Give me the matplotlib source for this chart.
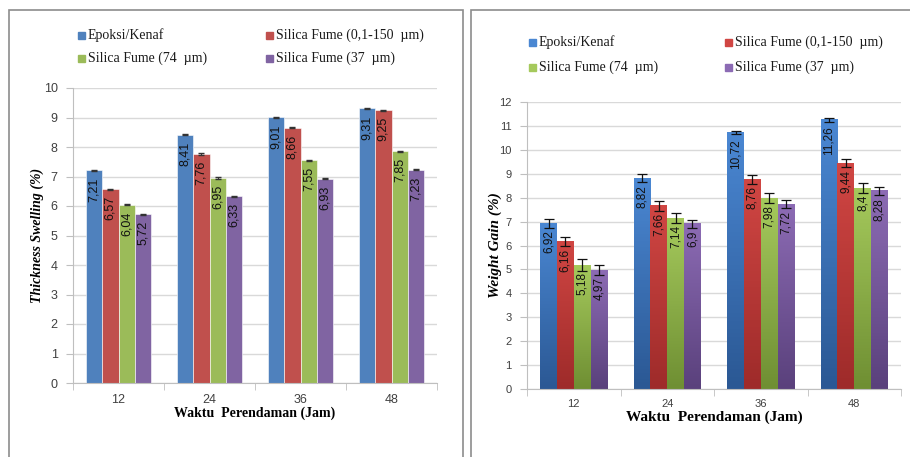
import numpy as np
import matplotlib
matplotlib.use('Agg')
import matplotlib.pyplot as plt
from matplotlib.patches import Rectangle
from matplotlib.colors import LinearSegmentedColormap

W, H = 910, 457

categories = ['12', '24', '36', '48']
series = ['Epoksi/Kenaf', 'Silica Fume (0,1-150  µm)', 'Silica Fume (74  µm)', 'Silica Fume (37  µm)']

swelling = [
    [7.21, 8.41, 9.01, 9.31],
    [6.57, 7.76, 8.66, 9.25],
    [6.04, 6.95, 7.55, 7.85],
    [5.72, 6.33, 6.93, 7.23],
]
swelling_err = [
    [0.02, 0.02, 0.02, 0.02],
    [0.02, 0.02, 0.02, 0.02],
    [0.02, 0.02, 0.02, 0.02],
    [0.02, 0.02, 0.02, 0.02],
]
swelling_labels = [
    ['7,21', '8,41', '9,01', '9,31'],
    ['6,57', '7,76', '8,66', '9,25'],
    ['6,04', '6,95', '7,55', '7,85'],
    ['5,72', '6,33', '6,93', '7,23'],
]

gain = [
    [6.92, 8.82, 10.72, 11.26],
    [6.16, 7.66, 8.76, 9.44],
    [5.18, 7.14, 7.98, 8.40],
    [4.97, 6.90, 7.72, 8.28],
]
gain_err = [
    [0.18, 0.18, 0.07, 0.08],
    [0.20, 0.20, 0.19, 0.17],
    [0.25, 0.22, 0.22, 0.20],
    [0.20, 0.18, 0.17, 0.18],
]
gain_labels = [
    ['6,92', '8,82', '10,72', '11,26'],
    ['6,16', '7,66', '8,76', '9,44'],
    ['5,18', '7,14', '7,98', '8,4'],
    ['4,97', '6,9', '7,72', '8,28'],
]

flat_colors = ['#4F81BD', '#C0504D', '#9BBB59', '#8064A2']
grad_colors = [('#2B5894', '#4A87D2'), ('#9E2B2A', '#D04643'),
               ('#6F8F33', '#A5C95C'), ('#5A417C', '#8C6BB4')]

serif = 'Liberation Serif'
sans = 'Liberation Sans'

fig = plt.figure(figsize=(W / 100, H / 100), dpi=100)


def px_axes(x0, y0, x1, y1):
    return fig.add_axes([x0 / W, 1 - y1 / H, (x1 - x0) / W, (y1 - y0) / H])


# panel borders
fig.patches.append(Rectangle((9 / W, -0.1), (463 - 9) / W, 1.1 - 10 / H, transform=fig.transFigure,
                             fill=False, ec='#8C8C8C', lw=1.2))
fig.patches.append(Rectangle((471 / W, -0.1), 0.5, 1.1 - 10 / H, transform=fig.transFigure,
                             fill=False, ec='#8C8C8C', lw=1.2))


def style_axes(ax, ymax, tick_fs, xpad):
    ax.set_xlim(-0.5, 3.5)
    ax.set_ylim(0, ymax)
    ax.set_yticks(range(0, ymax + 1))
    ax.set_xticks(range(4))
    ax.set_xticklabels(categories)
    ax.set_xticks([-0.5, 0.5, 1.5, 2.5, 3.5], minor=True)
    ax.tick_params(axis='x', which='major', length=0, pad=xpad, labelsize=tick_fs, labelcolor='#404040')
    ax.tick_params(axis='x', which='minor', length=5, color='#BFBFBF', direction='out')
    ax.tick_params(axis='y', length=5, color='#BFBFBF', labelsize=tick_fs, labelcolor='#404040', pad=6)
    for lab in ax.get_xticklabels() + ax.get_yticklabels():
        lab.set_family(sans)
    ax.grid(axis='y', color='#D9D9D9', lw=1)
    ax.set_axisbelow(True)
    for s in ['top', 'right']:
        ax.spines[s].set_visible(False)
    for s in ['left', 'bottom']:
        ax.spines[s].set_color('#BFBFBF')


def legend_at(x_cols, y_rows, colors):
    k = 0
    for r in range(2):
        for c in range(2):
            fig.patches.append(Rectangle(((x_cols[c] - 4) / W, 1 - (y_rows[r] + 4) / H), 7 / W, 7 / H,
                                         transform=fig.transFigure, color=colors[k]))
            fig.text((x_cols[c] + 6) / W, 1 - y_rows[r] / H, series[k], family=serif, fontsize=10,
                     va='center', ha='left', color='#1a1a1a')
            k += 1


x = np.arange(4)
bw = 0.18
offsets = [-1.5 * bw, -0.5 * bw, 0.5 * bw, 1.5 * bw]

# ---- left chart: thickness swelling
ax1 = px_axes(73, 88, 437, 383)
style_axes(ax1, 10, 9, 8)
for i in range(4):
    bars = ax1.bar(x + offsets[i], swelling[i], bw, color=flat_colors[i], ec='white', lw=0.4,
                   yerr=swelling_err[i], capsize=2, error_kw=dict(ecolor='#333333', lw=0.8))
    for b, lab in zip(bars, swelling_labels[i]):
        ax1.annotate(lab, (b.get_x() + b.get_width() / 2, b.get_height()), xytext=(0, -5),
                     textcoords='offset points', rotation=90, ha='center', va='top',
                     fontsize=9, family=sans, color='#111111')
ax1.set_xlabel('Waktu  Perendaman (Jam)', family=serif, fontweight='bold', fontsize=10, labelpad=0)
ax1.set_ylabel('Thickness Swelling (%)', family=serif, fontweight='bold', style='italic',
               fontsize=10, labelpad=0)
legend_at([82, 270], [35, 58], flat_colors)

# ---- right chart: weight gain, gradient bars
ax2 = px_axes(527, 102, 901, 389)
style_axes(ax2, 12, 8, 7)
grad = np.linspace(0, 1, 64).reshape(-1, 1)
for i in range(4):
    cmap = LinearSegmentedColormap.from_list('g%d' % i, list(grad_colors[i]))
    bars = ax2.bar(x + offsets[i], gain[i], bw, color='none', ec='none')
    for b in bars:
        x0, w, h = b.get_x(), b.get_width(), b.get_height()
        ax2.imshow(grad, extent=[x0, x0 + w, 0, h], origin='lower', aspect='auto', cmap=cmap, zorder=2)
    ax2.errorbar(x + offsets[i], gain[i], yerr=gain_err[i], fmt='none', ecolor='#111111',
                 lw=0.9, capsize=3.5, capthick=0.9, zorder=4)
    for b, lab in zip(bars, gain_labels[i]):
        ax2.annotate(lab, (b.get_x() + b.get_width() / 2, b.get_height()), xytext=(0, -5),
                     textcoords='offset points', rotation=90, ha='center', va='top',
                     fontsize=8.5, family=sans, color='#111111', zorder=5)
ax2.set_xlim(-0.5, 3.5)
ax2.set_ylim(0, 12)
ax2.set_xlabel('Waktu  Perendaman (Jam)', family=serif, fontweight='bold', fontsize=11, labelpad=1)
ax2.set_ylabel('Weight Gain (%)', family=serif, fontweight='bold', style='italic',
               fontsize=11, labelpad=-2)
legend_at([533, 729], [42, 67], [c[1] for c in grad_colors])

fig.savefig('out.png', dpi=100)
